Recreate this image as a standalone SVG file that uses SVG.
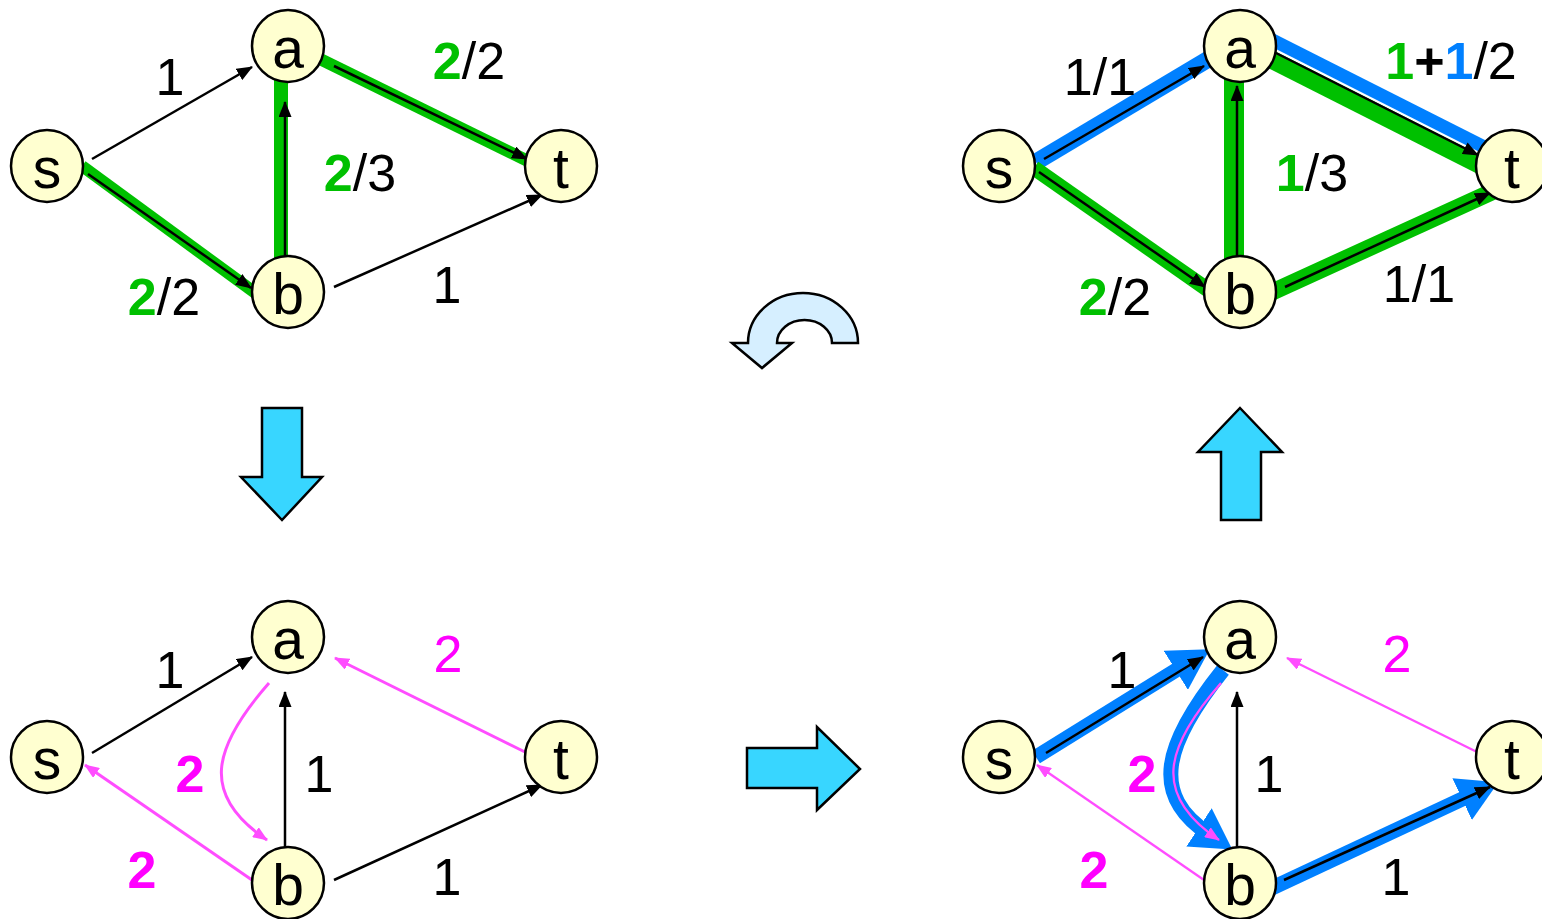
<svg xmlns="http://www.w3.org/2000/svg" width="1542" height="919" viewBox="0 0 1542 919">
<style>
.blk{stroke:#000;stroke-width:2.5;fill:none}
.mag{stroke:#FF4DFF;stroke-width:3;fill:none}
.mag2{stroke:#FF4DFF;stroke-width:2.3;fill:none}
.gr{stroke:#00C000;fill:none}
.bl{stroke:#0080FF;fill:none}
.node ellipse{fill:#FFFFD0;stroke:#000;stroke-width:2.5}
.node text{font-family:"Liberation Sans",Arial,sans-serif;font-size:57px;text-anchor:middle;fill:#000}
.lbl{font-family:"Liberation Sans",Arial,sans-serif;font-size:52px;text-anchor:middle;fill:#000}
.g{fill:#00C000;font-weight:bold}
.b{fill:#0080FF;font-weight:bold}
.k{font-weight:bold}
.m{fill:#FF00FF}
.mb{fill:#FF00FF;font-weight:bold}
.big{fill:#38D6FF;stroke:#000;stroke-width:2.5;stroke-linejoin:miter}
</style>
<defs>
<marker id="ab" markerUnits="userSpaceOnUse" viewBox="0 0 16 13" markerWidth="16" markerHeight="13" refX="15" refY="6.5" orient="auto"><path d="M0,0 L16,6.5 L0,13 Z" fill="#000"/></marker>
<marker id="am" markerUnits="userSpaceOnUse" viewBox="0 0 15 12" markerWidth="15" markerHeight="12" refX="14" refY="6" orient="auto"><path d="M0,0 L15,6 L0,12 Z" fill="#FF4DFF"/></marker>
<marker id="abl" markerUnits="userSpaceOnUse" viewBox="0 0 40 46" markerWidth="40" markerHeight="46" refX="12" refY="23" orient="auto"><path d="M0,0 L40,23 L0,46 Z" fill="#0080FF"/></marker>
</defs>
<rect width="1542" height="919" fill="#fff"/>

<g id="connectors">
  <!-- top-left -->
  <line class="gr" stroke-width="12" x1="82" y1="166" x2="258" y2="295"/>
  <line class="gr" stroke-width="14" x1="281" y1="78" x2="281" y2="260"/>
  <line class="gr" stroke-width="12" x1="320" y1="59" x2="532" y2="163"/>
  <line class="blk" x1="92" y1="159" x2="252" y2="67" marker-end="url(#ab)"/>
  <line class="blk" x1="88" y1="174" x2="251" y2="288" marker-end="url(#ab)"/>
  <line class="blk" x1="285" y1="257" x2="285" y2="102" marker-end="url(#ab)"/>
  <line class="blk" x1="334" y1="66" x2="527" y2="159" marker-end="url(#ab)"/>
  <line class="blk" x1="334" y1="287" x2="542" y2="195" marker-end="url(#ab)"/>

  <!-- top-right -->
  <line class="bl" stroke-width="17" x1="1036" y1="162" x2="1212" y2="57"/>
  <line class="gr" stroke-width="18" x1="1263.5" y1="55.6" x2="1483.3" y2="166.6"/>
  <line class="bl" stroke-width="13" x1="1271.6" y1="39.6" x2="1491.4" y2="150.6"/>
  <line class="gr" stroke-width="20" x1="1234" y1="78" x2="1234" y2="260"/>
  <line class="gr" stroke-width="15" x1="1034" y1="168" x2="1214" y2="294"/>
  <line class="gr" stroke-width="17" x1="1270" y1="293" x2="1496" y2="190"/>
  <line class="blk" x1="1044" y1="159" x2="1204" y2="66" marker-end="url(#ab)"/>
  <line class="blk" x1="1276" y1="53" x2="1478" y2="155" marker-end="url(#ab)"/>
  <line class="blk" x1="1237" y1="257" x2="1237" y2="86" marker-end="url(#ab)"/>
  <line class="blk" x1="1039" y1="172" x2="1205" y2="287" marker-end="url(#ab)"/>
  <line class="blk" x1="1285" y1="287" x2="1490" y2="193" marker-end="url(#ab)"/>

  <!-- bottom-left -->
  <line class="blk" x1="92" y1="753" x2="252" y2="657" marker-end="url(#ab)"/>
  <line class="mag" x1="527" y1="753" x2="335" y2="658" marker-end="url(#am)"/>
  <path class="mag" d="M269,683 C212,748 200,795 267,840" marker-end="url(#am)"/>
  <line class="mag" x1="252" y1="880" x2="85" y2="765" marker-end="url(#am)"/>
  <line class="blk" x1="285" y1="848" x2="285" y2="692" marker-end="url(#ab)"/>
  <line class="blk" x1="334" y1="880" x2="542" y2="785" marker-end="url(#ab)"/>

  <!-- bottom-right -->
  <path class="bl" stroke-width="15" d="M1036,757 L1186,664" marker-end="url(#abl)"/>
  <path class="bl" stroke-width="15" d="M1223,670 C1163,745 1150,795 1209,834" marker-end="url(#abl)"/>
  <path class="bl" stroke-width="15" d="M1272,888 L1473,794" marker-end="url(#abl)"/>
  <line class="blk" x1="1046" y1="753" x2="1203" y2="657" marker-end="url(#ab)"/>
  <path class="mag2" d="M1221,683 C1164,748 1152,795 1219,840" marker-end="url(#am)"/>
  <line class="mag2" x1="1204" y1="880" x2="1037" y2="765" marker-end="url(#am)"/>
  <line class="mag2" x1="1479" y1="753" x2="1287" y2="658" marker-end="url(#am)"/>
  <line class="blk" x1="1237" y1="848" x2="1237" y2="692" marker-end="url(#ab)"/>
  <line class="blk" x1="1284" y1="880" x2="1490" y2="787" marker-end="url(#ab)"/>
</g>

<!-- nodes top-left -->
<g id="tl-s" class="node"><ellipse cx="47" cy="166" rx="36" ry="36"/><text x="47" y="188">s</text></g>
<g id="tl-a" class="node"><ellipse cx="288" cy="46" rx="36" ry="36"/><text x="288" y="68">a</text></g>
<g id="tl-t" class="node"><ellipse cx="561" cy="166" rx="36" ry="36"/><text x="561" y="188">t</text></g>
<g id="tl-b" class="node"><ellipse cx="288" cy="292" rx="36" ry="36"/><text x="288" y="314">b</text></g>
<!-- nodes top-right -->
<g id="tr-s" class="node"><ellipse cx="999" cy="166" rx="36" ry="36"/><text x="999" y="188">s</text></g>
<g id="tr-a" class="node"><ellipse cx="1240" cy="46" rx="36" ry="36"/><text x="1240" y="68">a</text></g>
<g id="tr-t" class="node"><ellipse cx="1512" cy="166" rx="36" ry="36"/><text x="1512" y="188">t</text></g>
<g id="tr-b" class="node"><ellipse cx="1240" cy="292" rx="36" ry="36"/><text x="1240" y="314">b</text></g>
<!-- nodes bottom-left -->
<g id="bl-s" class="node"><ellipse cx="47" cy="757" rx="36" ry="36"/><text x="47" y="779">s</text></g>
<g id="bl-a" class="node"><ellipse cx="288" cy="637" rx="36" ry="36"/><text x="288" y="659">a</text></g>
<g id="bl-t" class="node"><ellipse cx="561" cy="757" rx="36" ry="36"/><text x="561" y="779">t</text></g>
<g id="bl-b" class="node"><ellipse cx="288" cy="883" rx="36" ry="36"/><text x="288" y="905">b</text></g>
<!-- nodes bottom-right -->
<g id="br-s" class="node"><ellipse cx="999" cy="757" rx="36" ry="36"/><text x="999" y="779">s</text></g>
<g id="br-a" class="node"><ellipse cx="1240" cy="637" rx="36" ry="36"/><text x="1240" y="659">a</text></g>
<g id="br-t" class="node"><ellipse cx="1512" cy="757" rx="36" ry="36"/><text x="1512" y="779">t</text></g>
<g id="br-b" class="node"><ellipse cx="1240" cy="883" rx="36" ry="36"/><text x="1240" y="905">b</text></g>

<g id="labels">
  <text class="lbl" x="170" y="95">1</text>
  <text class="lbl" x="469" y="79"><tspan class="g">2</tspan>/2</text>
  <text class="lbl" x="360" y="191"><tspan class="g">2</tspan>/3</text>
  <text class="lbl" x="164" y="315"><tspan class="g">2</tspan>/2</text>
  <text class="lbl" x="447" y="303">1</text>

  <text class="lbl" x="1100" y="95">1/1</text>
  <text class="lbl" x="1451" y="79"><tspan class="g">1</tspan><tspan class="k">+</tspan><tspan class="b">1</tspan>/2</text>
  <text class="lbl" x="1312" y="191"><tspan class="g">1</tspan>/3</text>
  <text class="lbl" x="1115" y="315"><tspan class="g">2</tspan>/2</text>
  <text class="lbl" x="1419" y="302">1/1</text>

  <text class="lbl" x="170" y="688">1</text>
  <text class="lbl m" x="448" y="672">2</text>
  <text class="lbl mb" x="190" y="792">2</text>
  <text class="lbl" x="319" y="792">1</text>
  <text class="lbl mb" x="142" y="888">2</text>
  <text class="lbl" x="447" y="895">1</text>

  <text class="lbl" x="1122" y="688">1</text>
  <text class="lbl m" x="1397" y="672">2</text>
  <text class="lbl mb" x="1142" y="792">2</text>
  <text class="lbl" x="1269" y="792">1</text>
  <text class="lbl mb" x="1094" y="888">2</text>
  <text class="lbl" x="1396" y="895">1</text>
</g>

<g id="arrow-down"><polygon class="big" points="262,408 302,408 302,477 322,477 282,520 241,477 262,477"/></g>
<g id="arrow-up"><polygon class="big" points="1240,408 1282,452 1261,452 1261,520 1221,520 1221,452 1198,452"/></g>
<g id="arrow-right"><polygon class="big" points="747,748 817,748 817,727 860,769 817,810 817,788 747,788"/></g>
<g id="arrow-curved"><path d="M858,343 A55,50 0 0 0 748,343 L732,343 L762,368 L792,343 L777,343 A27.5,23 0 0 1 832,343 Z" fill="#D6EFFF" stroke="#000" stroke-width="2.5" stroke-linejoin="miter"/></g>
</svg>
